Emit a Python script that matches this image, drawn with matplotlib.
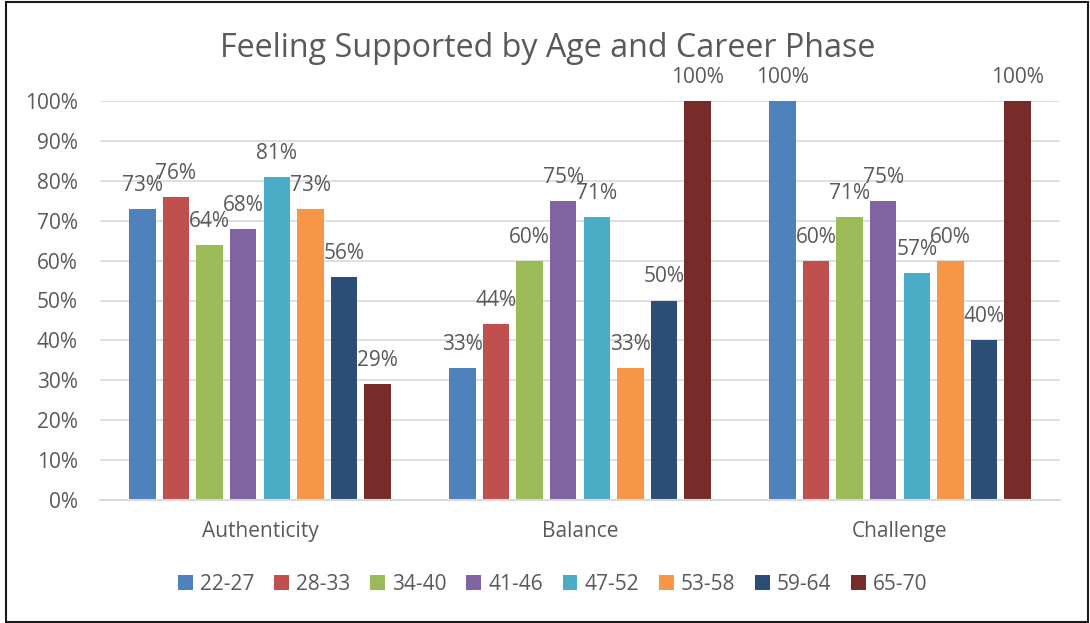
import matplotlib
matplotlib.use("Agg")
import matplotlib.pyplot as plt
import numpy as np
from matplotlib.patches import Patch, Rectangle

categories = ["Authenticity", "Balance", "Challenge"]
series_names = ["22-27", "28-33", "34-40", "41-46", "47-52", "53-58", "59-64", "65-70"]
values = {
    "22-27": [73, 33, 100],
    "28-33": [76, 44, 60],
    "34-40": [64, 60, 71],
    "41-46": [68, 75, 75],
    "47-52": [81, 71, 57],
    "53-58": [73, 33, 60],
    "59-64": [56, 50, 40],
    "65-70": [29, 100, 100],
}
colors = ["#4F81BD", "#C0504D", "#9BBB59", "#8064A2", "#4BACC6", "#F79646", "#2C4D75", "#772C2A"]
yticks = [0, 10, 20, 30, 40, 50, 60, 70, 80, 90, 100]
title = "Feeling Supported by Age and Career Phase"

plt.rcParams['font.family'] = ['Open Sans', 'DejaVu Sans']
TXT = "#595959"
FS = 15

W, H = 1090, 623
fig = plt.figure(figsize=(W / 100, H / 100), dpi=100)
ax = fig.add_axes([100 / W, 1 - 500 / H, 960 / W, 399 / H])

x = np.arange(len(categories))
pitch = 0.105
bw = 0.083
n = len(series_names)
for i, (name, c) in enumerate(zip(series_names, colors)):
    xs = x + (i - (n - 1) / 2) * pitch
    vals = np.array(values[name]) / 100.0
    ax.bar(xs, vals, width=bw, color=c, zorder=3)
    for xx, v in zip(xs, values[name]):
        ax.annotate(f"{v}%", (xx, v / 100.0), xytext=(0, 13), textcoords="offset points",
                    ha="center", va="baseline", fontsize=FS, color=TXT, zorder=4,
                    annotation_clip=False)

ax.set_xlim(-0.5, len(categories) - 0.5)
ax.set_ylim(0, 1.0)
ax.set_yticks([t / 100 for t in yticks])
ax.set_yticklabels([f"{t}%" for t in yticks])
ax.set_xticks(x)
ax.set_xticklabels(categories)
ax.tick_params(axis="y", length=0, pad=16, labelsize=FS, labelcolor=TXT)
ax.tick_params(axis="x", length=0, pad=15, labelsize=FS, labelcolor=TXT)
ax.grid(axis="y", color="#D9D9D9", linewidth=1.2, zorder=0)
for s in ["top", "right", "left"]:
    ax.spines[s].set_visible(False)
ax.spines["bottom"].set_color("#D9D9D9")
ax.spines["bottom"].set_linewidth(1.5)
ax.spines["bottom"].set_zorder(5)

fig.text(548 / W, 1 - 57 / H, title, ha="center", va="baseline", fontsize=23.2, color=TXT)

handles = [Patch(facecolor=c, edgecolor="none") for c in colors]
fig.legend(handles, series_names, loc="center", bbox_to_anchor=(553 / W, 1 - 584 / H),
           ncol=n, frameon=False, fontsize=FS, labelcolor=TXT,
           handlelength=0.7, handleheight=0.7, handletextpad=0.35, columnspacing=0.95)

fig.patches.append(Rectangle((5.5 / W, 1.5 / H), 1082.5 / W, 619.5 / H, transform=fig.transFigure,
                             fill=False, edgecolor="#1a1a1a", linewidth=1.5))

fig.savefig("out.png", dpi=100)
